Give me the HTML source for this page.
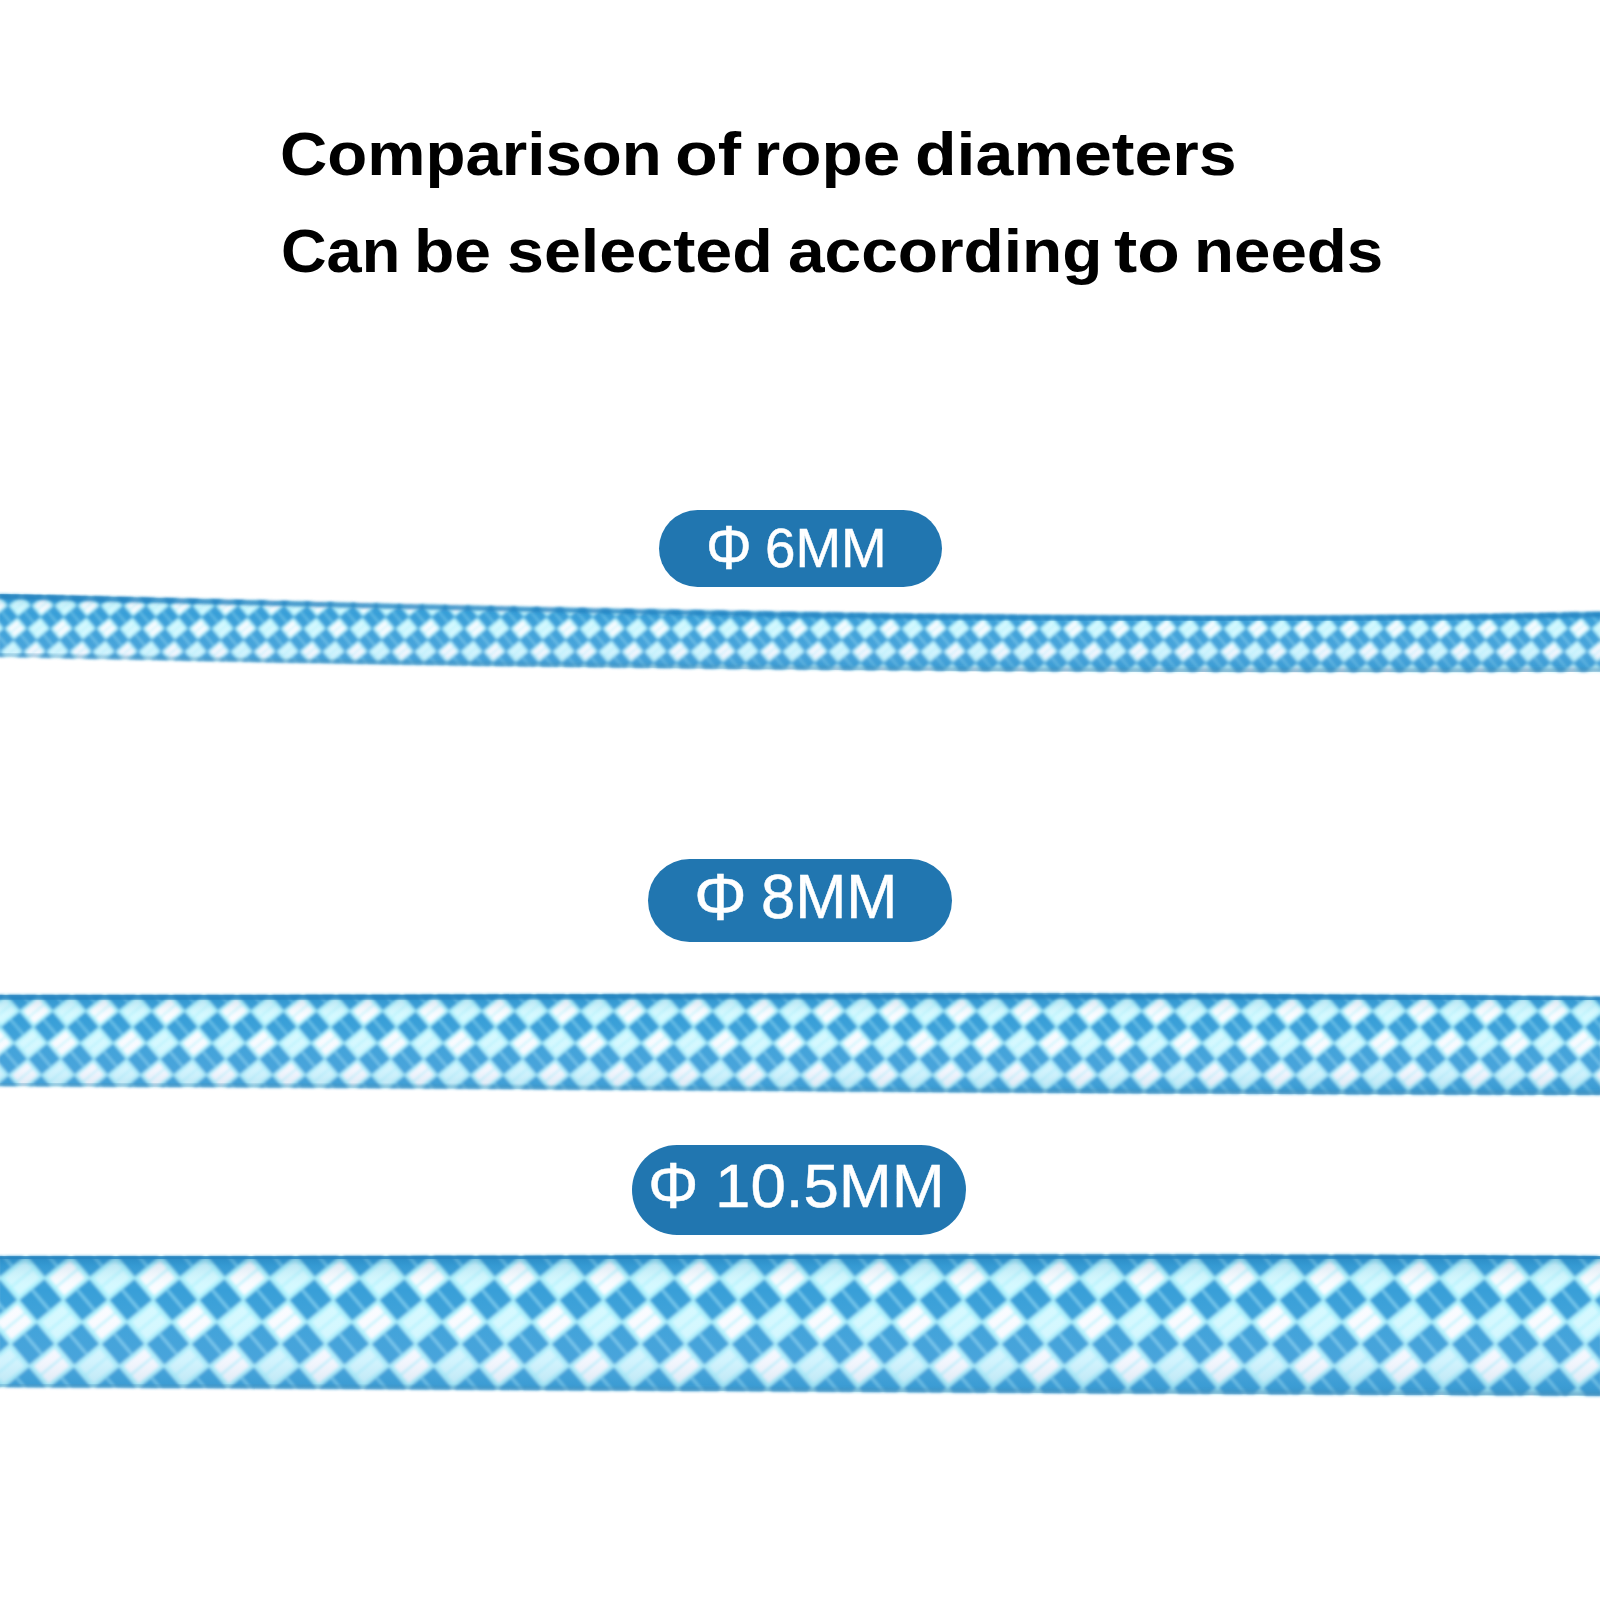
<!DOCTYPE html>
<html>
<head>
<meta charset="utf-8">
<style>
html,body{margin:0;padding:0;background:#fff;}
body{width:1600px;height:1600px;position:relative;overflow:hidden;font-family:"Liberation Sans",sans-serif;}
.w{position:absolute;font-weight:bold;color:#000;white-space:nowrap;line-height:1;transform-origin:0 0;}
.pill{position:absolute;background:#2176b0;border-radius:999px;}
.pt{position:absolute;color:#fff;white-space:nowrap;line-height:1;transform-origin:0 0;-webkit-text-stroke:0.5px #fff;}
svg.rope{position:absolute;left:0;top:0;}
</style>
</head>
<body>
<div class="w" style="left:280.4px;top:124.3px;font-size:61px;transform:scaleX(1.0729)">Comparison</div>
<div class="w" style="left:675.2px;top:124.3px;font-size:61px;transform:scaleX(1.1475)">of</div>
<div class="w" style="left:754.3px;top:124.3px;font-size:61px;transform:scaleX(1.1062)">rope</div>
<div class="w" style="left:915.3px;top:124.3px;font-size:61px;transform:scaleX(1.1164)">diameters</div>
<div class="w" style="left:280.5px;top:221.3px;font-size:61px;transform:scaleX(1.0349)">Can</div>
<div class="w" style="left:414.4px;top:221.3px;font-size:61px;transform:scaleX(1.0826)">be</div>
<div class="w" style="left:507.3px;top:221.3px;font-size:61px;transform:scaleX(1.0887)">selected</div>
<div class="w" style="left:788.0px;top:221.3px;font-size:61px;transform:scaleX(1.0789)">according</div>
<div class="w" style="left:1114.3px;top:221.3px;font-size:61px;transform:scaleX(1.1420)">to</div>
<div class="w" style="left:1194.4px;top:221.3px;font-size:61px;transform:scaleX(1.0732)">needs</div>
<div class="pill" style="left:659px;top:510px;width:283px;height:77px"></div>
<div class="pill" style="left:648px;top:859px;width:304px;height:83px"></div>
<div class="pill" style="left:632px;top:1145px;width:334px;height:90px"></div>
<div class="pt" style="left:705.6px;top:516.8px;font-size:62.14px;transform:scaleX(0.9229)">Φ</div>
<div class="pt" style="left:765.3px;top:521.3px;font-size:55.63px;transform:scaleX(0.9847)">6MM</div>
<div class="pt" style="left:694.0px;top:862.7px;font-size:67.14px;transform:scaleX(0.9856)">Φ</div>
<div class="pt" style="left:760.5px;top:865.1px;font-size:63.38px;transform:scaleX(0.9692)">8MM</div>
<div class="pt" style="left:648.2px;top:1153.0px;font-size:65.71px;transform:scaleX(0.9623)">Φ</div>
<div class="pt" style="left:714.9px;top:1156.0px;font-size:61.27px;transform:scaleX(1.0384)">10.5MM</div>
<svg class="rope" width="1600" height="1600" viewBox="0 0 1600 1600">
<defs>
<pattern id="p6" patternUnits="userSpaceOnUse" width="46.0" height="46.0" x="0" y="594" patternTransform="skewX(-10)"><rect width="46.0" height="46.0" fill="#379fd8"/><path d="M24.84 11.50L34.50 1.84L44.16 11.50L34.50 21.16ZM1.84 34.50L11.50 24.84L21.16 34.50L11.50 44.16Z" fill="#d4f9ff" stroke="#aef2fd" stroke-width="2.07"/><path d="M1.84 11.50L11.50 1.84L21.16 11.50L11.50 21.16ZM24.84 34.50L34.50 24.84L44.16 34.50L34.50 44.16Z" fill="#fafcff" stroke="#aef2fd" stroke-width="2.07"/><path d="M-5.75 -5.75L5.75 5.75M17.25 -5.75L28.75 5.75M40.25 -5.75L51.75 5.75M-5.75 17.25L5.75 28.75M17.25 17.25L28.75 28.75M40.25 17.25L51.75 28.75M-5.75 40.25L5.75 51.75M17.25 40.25L28.75 51.75M40.25 40.25L51.75 51.75" stroke="#7fd0f0" stroke-width="1.20" fill="none"/><path d="M6.67 16.33L16.33 6.67M29.67 16.33L39.33 6.67M29.67 39.33L39.33 29.67M6.67 39.33L16.33 29.67" stroke="#aef2fd" stroke-width="1.20" fill="none"/></pattern>
<pattern id="p8" patternUnits="userSpaceOnUse" width="66.0" height="64" x="0" y="995" patternTransform="skewX(-10)"><rect width="66.0" height="64" fill="#379fd8"/><path d="M34.65 16.00L49.50 1.60L64.35 16.00L49.50 30.40ZM1.65 48.00L16.50 33.60L31.35 48.00L16.50 62.40Z" fill="#d4f9ff" stroke="#aef2fd" stroke-width="2.97"/><path d="M1.65 16.00L16.50 1.60L31.35 16.00L16.50 30.40ZM34.65 48.00L49.50 33.60L64.35 48.00L49.50 62.40Z" fill="#fafcff" stroke="#aef2fd" stroke-width="2.97"/><path d="M-8.25 -8.00L8.25 8.00M24.75 -8.00L41.25 8.00M57.75 -8.00L74.25 8.00M-8.25 24.00L8.25 40.00M24.75 24.00L41.25 40.00M57.75 24.00L74.25 40.00M-8.25 56.00L8.25 72.00M24.75 56.00L41.25 72.00M57.75 56.00L74.25 72.00" stroke="#7fd0f0" stroke-width="1.48" fill="none"/><path d="M9.07 23.20L23.93 8.80M42.08 23.20L56.92 8.80M42.08 55.20L56.92 40.80M9.07 55.20L23.93 40.80" stroke="#aef2fd" stroke-width="1.48" fill="none"/></pattern>
<pattern id="p10" patternUnits="userSpaceOnUse" width="90.0" height="88" x="0" y="1256" patternTransform="skewX(-10)"><rect width="90.0" height="88" fill="#379fd8"/><path d="M46.80 22.00L67.50 1.76L88.20 22.00L67.50 42.24ZM1.80 66.00L22.50 45.76L43.20 66.00L22.50 86.24Z" fill="#d4f9ff" stroke="#aef2fd" stroke-width="4.05"/><path d="M1.80 22.00L22.50 1.76L43.20 22.00L22.50 42.24ZM46.80 66.00L67.50 45.76L88.20 66.00L67.50 86.24Z" fill="#fafcff" stroke="#aef2fd" stroke-width="4.05"/><path d="M-11.25 -11.00L11.25 11.00M33.75 -11.00L56.25 11.00M78.75 -11.00L101.25 11.00M-11.25 33.00L11.25 55.00M33.75 33.00L56.25 55.00M78.75 33.00L101.25 55.00M-11.25 77.00L11.25 99.00M33.75 77.00L56.25 99.00M78.75 77.00L101.25 99.00" stroke="#7fd0f0" stroke-width="2.02" fill="none"/><path d="M12.15 32.12L32.85 11.88M57.15 32.12L77.85 11.88M57.15 76.12L77.85 55.88M12.15 76.12L32.85 55.88" stroke="#aef2fd" stroke-width="2.02" fill="none"/></pattern>
<filter id="soft" x="-1%" y="-10%" width="102%" height="120%"><feGaussianBlur stdDeviation="1.4"/></filter>
<linearGradient id="shade" x1="0" y1="0" x2="0" y2="1">
<stop offset="0" stop-color="#1a70a8" stop-opacity="0.5"/>
<stop offset="0.08" stop-color="#1a70a8" stop-opacity="0.12"/>
<stop offset="0.25" stop-color="#ffffff" stop-opacity="0"/>
<stop offset="0.75" stop-color="#c0c8f0" stop-opacity="0.12"/>
<stop offset="0.93" stop-color="#4a90c0" stop-opacity="0.18"/>
<stop offset="1" stop-color="#3a80b0" stop-opacity="0.4"/>
</linearGradient>
</defs>
<path d="M-2 594.1 L38 595.1 L78 596.0 L118 597.0 L158 598.0 L198 599.0 L239 600.0 L279 601.0 L319 601.9 L359 602.9 L399 603.9 L439 604.8 L479 605.7 L519 606.7 L559 607.5 L600 608.4 L640 609.2 L680 610.0 L720 610.8 L760 611.5 L800 612.2 L840 612.8 L880 613.4 L920 613.9 L960 614.4 L1000 614.8 L1041 615.2 L1081 615.4 L1121 615.7 L1161 615.8 L1201 615.9 L1241 615.9 L1281 615.8 L1321 615.7 L1361 615.4 L1402 615.1 L1442 614.7 L1482 614.2 L1522 613.5 L1562 612.8 L1602 612.0 L1602 671.8 L1562 671.9 L1522 672.1 L1482 672.2 L1442 672.2 L1402 672.3 L1361 672.3 L1321 672.3 L1281 672.2 L1241 672.2 L1201 672.1 L1161 672.0 L1121 671.8 L1081 671.6 L1041 671.4 L1000 671.2 L960 670.9 L920 670.6 L880 670.3 L840 670.0 L800 669.6 L760 669.2 L720 668.8 L680 668.3 L640 667.8 L600 667.3 L559 666.8 L519 666.2 L479 665.7 L439 665.0 L399 664.4 L359 663.8 L319 663.1 L279 662.4 L239 661.6 L198 660.9 L158 660.1 L118 659.3 L78 658.4 L38 657.6 L-2 656.7Z" fill="url(#p6)" filter="url(#soft)"/>
<path d="M-2 594.1 L38 595.1 L78 596.0 L118 597.0 L158 598.0 L198 599.0 L239 600.0 L279 601.0 L319 601.9 L359 602.9 L399 603.9 L439 604.8 L479 605.7 L519 606.7 L559 607.5 L600 608.4 L640 609.2 L680 610.0 L720 610.8 L760 611.5 L800 612.2 L840 612.8 L880 613.4 L920 613.9 L960 614.4 L1000 614.8 L1041 615.2 L1081 615.4 L1121 615.7 L1161 615.8 L1201 615.9 L1241 615.9 L1281 615.8 L1321 615.7 L1361 615.4 L1402 615.1 L1442 614.7 L1482 614.2 L1522 613.5 L1562 612.8 L1602 612.0 L1602 671.8 L1562 671.9 L1522 672.1 L1482 672.2 L1442 672.2 L1402 672.3 L1361 672.3 L1321 672.3 L1281 672.2 L1241 672.2 L1201 672.1 L1161 672.0 L1121 671.8 L1081 671.6 L1041 671.4 L1000 671.2 L960 670.9 L920 670.6 L880 670.3 L840 670.0 L800 669.6 L760 669.2 L720 668.8 L680 668.3 L640 667.8 L600 667.3 L559 666.8 L519 666.2 L479 665.7 L439 665.0 L399 664.4 L359 663.8 L319 663.1 L279 662.4 L239 661.6 L198 660.9 L158 660.1 L118 659.3 L78 658.4 L38 657.6 L-2 656.7Z" fill="url(#shade)"/>
<path d="M-2 596.6 L38 597.6 L78 598.5 L118 599.5 L158 600.5 L198 601.5 L239 602.5 L279 603.5 L319 604.4 L359 605.4 L399 606.4 L439 607.3 L479 608.2 L519 609.2 L559 610.0 L600 610.9 L640 611.7 L680 612.5 L720 613.3 L760 614.0 L800 614.7 L840 615.3 L880 615.9 L920 616.4 L960 616.9 L1000 617.3 L1041 617.7 L1081 617.9 L1121 618.2 L1161 618.3 L1201 618.4 L1241 618.4 L1281 618.3 L1321 618.2 L1361 617.9 L1402 617.6 L1442 617.2 L1482 616.7 L1522 616.0 L1562 615.3 L1602 614.5" stroke="#2482c0" stroke-width="5" fill="none" opacity="0.8" filter="url(#soft)"/>
<path d="M-2 654.7 L38 655.6 L78 656.4 L118 657.3 L158 658.1 L198 658.9 L239 659.6 L279 660.4 L319 661.1 L359 661.8 L399 662.4 L439 663.0 L479 663.7 L519 664.2 L559 664.8 L600 665.3 L640 665.8 L680 666.3 L720 666.8 L760 667.2 L800 667.6 L840 668.0 L880 668.3 L920 668.6 L960 668.9 L1000 669.2 L1041 669.4 L1081 669.6 L1121 669.8 L1161 670.0 L1201 670.1 L1241 670.2 L1281 670.2 L1321 670.3 L1361 670.3 L1402 670.3 L1442 670.2 L1482 670.2 L1522 670.1 L1562 669.9 L1602 669.8" stroke="#4a90b8" stroke-width="3" fill="none" opacity="0.45" filter="url(#soft)"/>
<path d="M-2 994.8 L38 994.8 L78 994.8 L118 994.8 L158 994.8 L198 994.8 L239 994.7 L279 994.7 L319 994.6 L359 994.5 L399 994.4 L439 994.3 L479 994.2 L519 994.1 L559 994.0 L600 993.9 L640 993.8 L680 993.7 L720 993.6 L760 993.5 L800 993.4 L840 993.4 L880 993.3 L920 993.3 L960 993.3 L1000 993.3 L1041 993.3 L1081 993.3 L1121 993.4 L1161 993.5 L1201 993.6 L1241 993.8 L1281 994.0 L1321 994.2 L1361 994.5 L1402 994.8 L1442 995.1 L1482 995.5 L1522 995.9 L1562 996.4 L1602 996.9 L1602 1095.1 L1562 1095.0 L1522 1094.9 L1482 1094.8 L1442 1094.7 L1402 1094.5 L1361 1094.4 L1321 1094.2 L1281 1094.0 L1241 1093.8 L1201 1093.6 L1161 1093.4 L1121 1093.2 L1081 1092.9 L1041 1092.7 L1000 1092.4 L960 1092.2 L920 1091.9 L880 1091.6 L840 1091.4 L800 1091.1 L760 1090.8 L720 1090.5 L680 1090.2 L640 1090.0 L600 1089.7 L559 1089.4 L519 1089.1 L479 1088.8 L439 1088.6 L399 1088.3 L359 1088.1 L319 1087.8 L279 1087.6 L239 1087.3 L198 1087.1 L158 1086.9 L118 1086.7 L78 1086.5 L38 1086.3 L-2 1086.1Z" fill="url(#p8)" filter="url(#soft)"/>
<path d="M-2 994.8 L38 994.8 L78 994.8 L118 994.8 L158 994.8 L198 994.8 L239 994.7 L279 994.7 L319 994.6 L359 994.5 L399 994.4 L439 994.3 L479 994.2 L519 994.1 L559 994.0 L600 993.9 L640 993.8 L680 993.7 L720 993.6 L760 993.5 L800 993.4 L840 993.4 L880 993.3 L920 993.3 L960 993.3 L1000 993.3 L1041 993.3 L1081 993.3 L1121 993.4 L1161 993.5 L1201 993.6 L1241 993.8 L1281 994.0 L1321 994.2 L1361 994.5 L1402 994.8 L1442 995.1 L1482 995.5 L1522 995.9 L1562 996.4 L1602 996.9 L1602 1095.1 L1562 1095.0 L1522 1094.9 L1482 1094.8 L1442 1094.7 L1402 1094.5 L1361 1094.4 L1321 1094.2 L1281 1094.0 L1241 1093.8 L1201 1093.6 L1161 1093.4 L1121 1093.2 L1081 1092.9 L1041 1092.7 L1000 1092.4 L960 1092.2 L920 1091.9 L880 1091.6 L840 1091.4 L800 1091.1 L760 1090.8 L720 1090.5 L680 1090.2 L640 1090.0 L600 1089.7 L559 1089.4 L519 1089.1 L479 1088.8 L439 1088.6 L399 1088.3 L359 1088.1 L319 1087.8 L279 1087.6 L239 1087.3 L198 1087.1 L158 1086.9 L118 1086.7 L78 1086.5 L38 1086.3 L-2 1086.1Z" fill="url(#shade)"/>
<path d="M-2 997.3 L38 997.3 L78 997.3 L118 997.3 L158 997.3 L198 997.3 L239 997.2 L279 997.2 L319 997.1 L359 997.0 L399 996.9 L439 996.8 L479 996.7 L519 996.6 L559 996.5 L600 996.4 L640 996.3 L680 996.2 L720 996.1 L760 996.0 L800 995.9 L840 995.9 L880 995.8 L920 995.8 L960 995.8 L1000 995.8 L1041 995.8 L1081 995.8 L1121 995.9 L1161 996.0 L1201 996.1 L1241 996.3 L1281 996.5 L1321 996.7 L1361 997.0 L1402 997.3 L1442 997.6 L1482 998.0 L1522 998.4 L1562 998.9 L1602 999.4" stroke="#2482c0" stroke-width="5" fill="none" opacity="0.8" filter="url(#soft)"/>
<path d="M-2 1084.1 L38 1084.3 L78 1084.5 L118 1084.7 L158 1084.9 L198 1085.1 L239 1085.3 L279 1085.6 L319 1085.8 L359 1086.1 L399 1086.3 L439 1086.6 L479 1086.8 L519 1087.1 L559 1087.4 L600 1087.7 L640 1088.0 L680 1088.2 L720 1088.5 L760 1088.8 L800 1089.1 L840 1089.4 L880 1089.6 L920 1089.9 L960 1090.2 L1000 1090.4 L1041 1090.7 L1081 1090.9 L1121 1091.2 L1161 1091.4 L1201 1091.6 L1241 1091.8 L1281 1092.0 L1321 1092.2 L1361 1092.4 L1402 1092.5 L1442 1092.7 L1482 1092.8 L1522 1092.9 L1562 1093.0 L1602 1093.1" stroke="#4a90b8" stroke-width="3" fill="none" opacity="0.45" filter="url(#soft)"/>
<path d="M-2 1256.0 L38 1256.0 L78 1256.0 L118 1256.0 L158 1256.0 L198 1256.0 L239 1256.0 L279 1255.9 L319 1255.8 L359 1255.8 L399 1255.7 L439 1255.6 L479 1255.5 L519 1255.4 L559 1255.3 L600 1255.2 L640 1255.1 L680 1254.9 L720 1254.8 L760 1254.7 L800 1254.6 L840 1254.5 L880 1254.5 L920 1254.4 L960 1254.3 L1000 1254.3 L1041 1254.2 L1081 1254.2 L1121 1254.2 L1161 1254.2 L1201 1254.2 L1241 1254.3 L1281 1254.4 L1321 1254.5 L1361 1254.6 L1402 1254.7 L1442 1254.9 L1482 1255.1 L1522 1255.4 L1562 1255.6 L1602 1255.9 L1602 1396.0 L1562 1395.8 L1522 1395.6 L1482 1395.4 L1442 1395.1 L1402 1394.9 L1361 1394.7 L1321 1394.5 L1281 1394.3 L1241 1394.1 L1201 1393.8 L1161 1393.6 L1121 1393.4 L1081 1393.2 L1041 1392.9 L1000 1392.7 L960 1392.5 L920 1392.2 L880 1392.0 L840 1391.8 L800 1391.5 L760 1391.3 L720 1391.1 L680 1390.9 L640 1390.6 L600 1390.4 L559 1390.2 L519 1389.9 L479 1389.7 L439 1389.5 L399 1389.2 L359 1389.0 L319 1388.8 L279 1388.5 L239 1388.3 L198 1388.1 L158 1387.9 L118 1387.6 L78 1387.4 L38 1387.2 L-2 1387.0Z" fill="url(#p10)" filter="url(#soft)"/>
<path d="M-2 1256.0 L38 1256.0 L78 1256.0 L118 1256.0 L158 1256.0 L198 1256.0 L239 1256.0 L279 1255.9 L319 1255.8 L359 1255.8 L399 1255.7 L439 1255.6 L479 1255.5 L519 1255.4 L559 1255.3 L600 1255.2 L640 1255.1 L680 1254.9 L720 1254.8 L760 1254.7 L800 1254.6 L840 1254.5 L880 1254.5 L920 1254.4 L960 1254.3 L1000 1254.3 L1041 1254.2 L1081 1254.2 L1121 1254.2 L1161 1254.2 L1201 1254.2 L1241 1254.3 L1281 1254.4 L1321 1254.5 L1361 1254.6 L1402 1254.7 L1442 1254.9 L1482 1255.1 L1522 1255.4 L1562 1255.6 L1602 1255.9 L1602 1396.0 L1562 1395.8 L1522 1395.6 L1482 1395.4 L1442 1395.1 L1402 1394.9 L1361 1394.7 L1321 1394.5 L1281 1394.3 L1241 1394.1 L1201 1393.8 L1161 1393.6 L1121 1393.4 L1081 1393.2 L1041 1392.9 L1000 1392.7 L960 1392.5 L920 1392.2 L880 1392.0 L840 1391.8 L800 1391.5 L760 1391.3 L720 1391.1 L680 1390.9 L640 1390.6 L600 1390.4 L559 1390.2 L519 1389.9 L479 1389.7 L439 1389.5 L399 1389.2 L359 1389.0 L319 1388.8 L279 1388.5 L239 1388.3 L198 1388.1 L158 1387.9 L118 1387.6 L78 1387.4 L38 1387.2 L-2 1387.0Z" fill="url(#shade)"/>
<path d="M-2 1258.5 L38 1258.5 L78 1258.5 L118 1258.5 L158 1258.5 L198 1258.5 L239 1258.5 L279 1258.4 L319 1258.3 L359 1258.3 L399 1258.2 L439 1258.1 L479 1258.0 L519 1257.9 L559 1257.8 L600 1257.7 L640 1257.6 L680 1257.4 L720 1257.3 L760 1257.2 L800 1257.1 L840 1257.0 L880 1257.0 L920 1256.9 L960 1256.8 L1000 1256.8 L1041 1256.7 L1081 1256.7 L1121 1256.7 L1161 1256.7 L1201 1256.7 L1241 1256.8 L1281 1256.9 L1321 1257.0 L1361 1257.1 L1402 1257.2 L1442 1257.4 L1482 1257.6 L1522 1257.9 L1562 1258.1 L1602 1258.4" stroke="#2482c0" stroke-width="5" fill="none" opacity="0.8" filter="url(#soft)"/>
<path d="M-2 1385.0 L38 1385.2 L78 1385.4 L118 1385.6 L158 1385.9 L198 1386.1 L239 1386.3 L279 1386.5 L319 1386.8 L359 1387.0 L399 1387.2 L439 1387.5 L479 1387.7 L519 1387.9 L559 1388.2 L600 1388.4 L640 1388.6 L680 1388.9 L720 1389.1 L760 1389.3 L800 1389.5 L840 1389.8 L880 1390.0 L920 1390.2 L960 1390.5 L1000 1390.7 L1041 1390.9 L1081 1391.2 L1121 1391.4 L1161 1391.6 L1201 1391.8 L1241 1392.1 L1281 1392.3 L1321 1392.5 L1361 1392.7 L1402 1392.9 L1442 1393.1 L1482 1393.4 L1522 1393.6 L1562 1393.8 L1602 1394.0" stroke="#4a90b8" stroke-width="3" fill="none" opacity="0.45" filter="url(#soft)"/>
</svg>
</body>
</html>
